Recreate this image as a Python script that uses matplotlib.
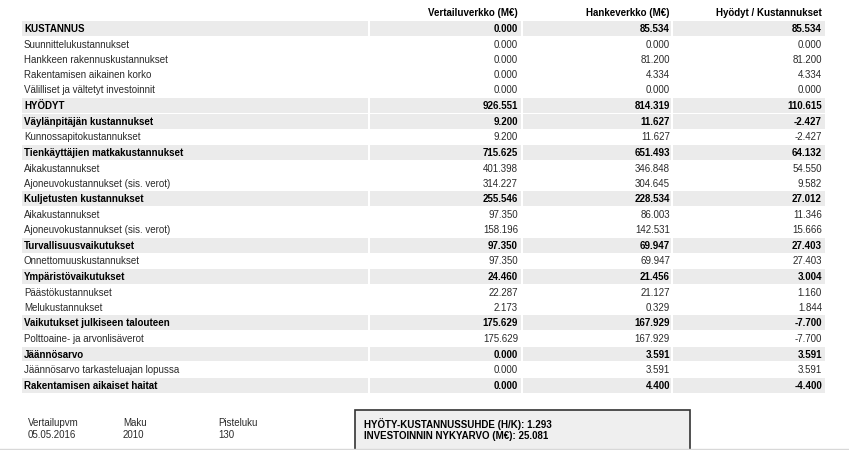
import matplotlib.pyplot as plt
from matplotlib.patches import Rectangle

plt.rcParams['font.family'] = ['Liberation Sans', 'DejaVu Sans']

headers = ['Vertailuverkko (M€)', 'Hankeverkko (M€)', 'Hyödyt / Kustannukset']

labels = ['KUSTANNUS', 'Suunnittelukustannukset', 'Hankkeen rakennuskustannukset',
          'Rakentamisen aikainen korko', 'Välilliset ja vältetyt investoinnit',
          'HYÖDYT', 'Väylänpitäjän kustannukset', 'Kunnossapitokustannukset',
          'Tienkäyttäjien matkakustannukset', 'Aikakustannukset',
          'Ajoneuvokustannukset (sis. verot)', 'Kuljetusten kustannukset',
          'Aikakustannukset', 'Ajoneuvokustannukset (sis. verot)',
          'Turvallisuusvaikutukset', 'Onnettomuuskustannukset',
          'Ympäristövaikutukset', 'Päästökustannukset', 'Melukustannukset',
          'Vaikutukset julkiseen talouteen', 'Polttoaine- ja arvonlisäverot',
          'Jäännösarvo', 'Jäännösarvo tarkasteluajan lopussa',
          'Rakentamisen aikaiset haitat']
bold = [1, 0, 0, 0, 0, 1, 1, 0, 1, 0, 0, 1, 0, 0, 1, 0, 1, 0, 0, 1, 0, 1, 0, 1]

vertailu = [0.000, 0.000, 0.000, 0.000, 0.000, 926.551, 9.200, 9.200, 715.625,
            401.398, 314.227, 255.546, 97.350, 158.196, 97.350, 97.350, 24.460,
            22.287, 2.173, 175.629, 175.629, 0.000, 0.000, 0.000]
hanke = [85.534, 0.000, 81.200, 4.334, 0.000, 814.319, 11.627, 11.627, 651.493,
         346.848, 304.645, 228.534, 86.003, 142.531, 69.947, 69.947, 21.456,
         21.127, 0.329, 167.929, 167.929, 3.591, 3.591, 4.400]
hyodyt = [85.534, 0.000, 81.200, 4.334, 0.000, 110.615, -2.427, -2.427, 64.132,
          54.550, 9.582, 27.012, 11.346, 15.666, 27.403, 27.403, 3.004,
          1.160, 1.844, -7.700, -7.700, 3.591, 3.591, -4.400]

footer_keys = ['Vertailupvm', 'Maku', 'Pisteluku']
footer_vals = ['05.05.2016', '2010', '130']
hk_ratio = 1.293
npv = 25.081

W, H = 849, 450
fig = plt.figure(figsize=(W / 100, H / 100), dpi=100)
ax = fig.add_axes([0, 0, 1, 1])
ax.set_xlim(0, W)
ax.set_ylim(H, 0)
ax.axis('off')

FS = 7
BAND = '#ebebeb'
TXT = '#2a2a2a'

# column bands (x0, x1) and right edges for numbers
bands = [(22, 368), (370, 521), (523, 671), (673, 825)]
right = [518, 670, 822]

for x, h in zip(right, headers):
    ax.text(x, 13, h, ha='right', va='center', fontsize=FS, fontweight='bold', color='black')

y = 21
for i, lab in enumerate(labels):
    b = bold[i]
    rh = 16 if b else 15.2
    yc = y + rh / 2
    if b:
        for x0, x1 in bands:
            ax.add_patch(Rectangle((x0, y), x1 - x0, rh - 1.2, facecolor=BAND, edgecolor='none'))
    fw = 'bold' if b else 'normal'
    col = 'black' if b else TXT
    ax.text(24, yc, lab, ha='left', va='center', fontsize=FS, fontweight=fw, color=col)
    for x, v in zip(right, (vertailu[i], hanke[i], hyodyt[i])):
        ax.text(x, yc, f'{v:.3f}', ha='right', va='center', fontsize=FS, fontweight=fw, color=col)
    y += rh

# footer
for x, k, v in zip([28, 123, 218], footer_keys, footer_vals):
    ax.text(x, 423, k, ha='left', va='center', fontsize=FS, color=TXT)
    ax.text(x, 435, v, ha='left', va='center', fontsize=FS, color=TXT)

ax.add_patch(Rectangle((355, 410), 335, 45, facecolor='#efefef', edgecolor='#333333', lw=1.2))
ax.text(364, 424, f'HYÖTY-KUSTANNUSSUHDE (H/K): {hk_ratio:.3f}', ha='left', va='center',
        fontsize=FS, fontweight='bold', color='black')
ax.text(364, 436, f'INVESTOINNIN NYKYARVO (M€): {npv:.3f}', ha='left', va='center',
        fontsize=FS, fontweight='bold', color='black')
ax.plot([0, W], [448.5, 448.5], color='#d8d8d8', lw=1)

fig.savefig('out.png', dpi=100)
